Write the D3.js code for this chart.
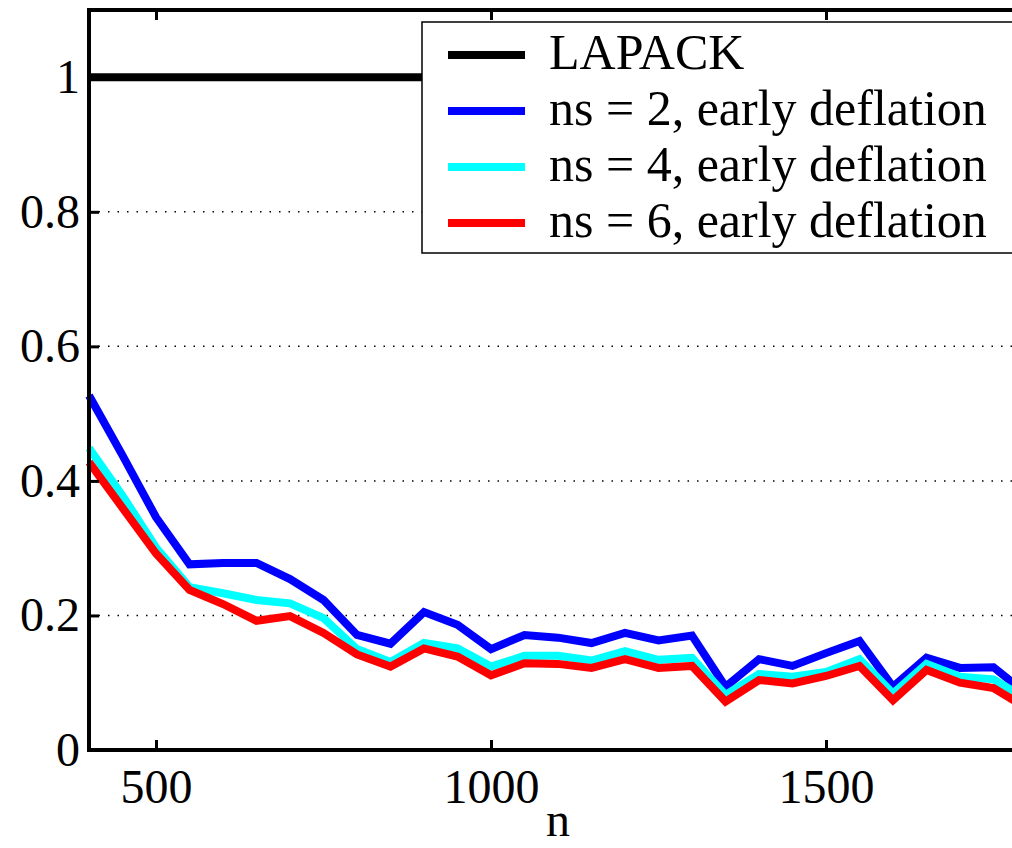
<!DOCTYPE html>
<html>
<head>
<meta charset="utf-8">
<script src="https://cdn.jsdelivr.net/npm/d3@7"></script>
<style>
  body { margin: 0; background: #fff; }
  svg { display: block; }
  text { font-family: "Liberation Serif", "Times New Roman", serif; fill: #000; }
</style>
</head>
<body>
<div id="chart"></div>
<script>
  // ---- data ----
  const nValues = [400, 450, 500, 550, 600, 650, 700, 750, 800, 850, 900, 950, 1000, 1050, 1100,
    1150, 1200, 1250, 1300, 1350, 1400, 1450, 1500, 1550, 1600, 1650, 1700, 1750, 1800];
  const lapack = nValues.map(() => 1);
  const ns2 = [0.527, 0.438, 0.346, 0.276, 0.278, 0.278, 0.254, 0.223, 0.171, 0.158, 0.205, 0.186, 0.150, 0.171, 0.167,
    0.159, 0.174, 0.163, 0.170, 0.094, 0.135, 0.125, 0.144, 0.162, 0.094, 0.137, 0.122, 0.123, 0.083];
  const ns4 = [0.449, 0.378, 0.301, 0.242, 0.233, 0.223, 0.218, 0.196, 0.150, 0.131, 0.159, 0.151, 0.124, 0.140, 0.140,
    0.133, 0.147, 0.134, 0.137, 0.082, 0.113, 0.109, 0.116, 0.135, 0.084, 0.128, 0.109, 0.105, 0.075];
  const ns6 = [0.428, 0.360, 0.292, 0.238, 0.217, 0.192, 0.199, 0.174, 0.142, 0.124, 0.151, 0.139, 0.111, 0.129, 0.128,
    0.122, 0.135, 0.122, 0.125, 0.072, 0.104, 0.099, 0.110, 0.125, 0.074, 0.119, 0.100, 0.092, 0.062];
  const seriesNames = ["LAPACK", "ns = 2, early deflation", "ns = 4, early deflation", "ns = 6, early deflation"];
  const seriesColors = ["#000000", "#0000ff", "#00ffff", "#ff0000"];
  const xTicks = [500, 1000, 1500];
  const yTicks = [0, 0.2, 0.4, 0.6, 0.8, 1];
  const gridTicks = [0.2, 0.4, 0.6, 0.8];

  const W = 1012, H = 848;
  const plot = { left: 89, top: 10, right: 1027, bottom: 750 };

  const svg = d3.select("#chart").append("svg")
    .attr("width", W)
    .attr("height", H);

  const x = d3.scaleLinear().domain([400, 1800]).range([plot.left, plot.right]);
  const y = d3.scaleLinear().domain([0, 1.1]).range([plot.bottom, plot.top]);

  // dotted grid lines
  svg.append("g")
    .selectAll("line")
    .data(gridTicks)
    .join("line")
    .attr("x1", plot.left)
    .attr("x2", plot.right)
    .attr("y1", d => y(d))
    .attr("y2", d => y(d))
    .attr("stroke", "#000")
    .attr("stroke-width", 1.5)
    .attr("stroke-dasharray", "1.5,8");

  // lines
  const line = d3.line()
    .x((d, i) => x(nValues[i]))
    .y(d => y(d));

  const allSeries = [lapack, ns2, ns4, ns6];
  svg.append("g")
    .selectAll("path")
    .data(allSeries)
    .join("path")
    .attr("d", line)
    .attr("fill", "none")
    .attr("stroke", (d, i) => seriesColors[i])
    .attr("stroke-width", 8)
    .attr("stroke-linejoin", "miter")
    .attr("stroke-miterlimit", 4);

  // axes (inward ticks, box)
  const axisStyle = g => {
    g.select(".domain").remove();
    g.selectAll(".tick line").attr("stroke", "#000").attr("stroke-width", 3);
    g.selectAll(".tick text").style("font-size", "48px").style("font-family", "Liberation Serif, serif");
  };

  svg.append("g")
    .attr("transform", `translate(0,${plot.bottom})`)
    .call(d3.axisBottom(x).tickValues(xTicks).tickSize(-10).tickPadding(19).tickFormat(d3.format("d")))
    .call(axisStyle);

  svg.append("g")
    .attr("transform", `translate(0,${plot.top})`)
    .call(d3.axisTop(x).tickValues(xTicks).tickSize(-10).tickFormat(""))
    .call(axisStyle);

  svg.append("g")
    .attr("transform", `translate(${plot.left},0)`)
    .call(d3.axisLeft(y).tickValues(yTicks).tickSize(-10).tickPadding(9).tickFormat(d => d === 0 || d === 1 ? d3.format("d")(d) : d3.format(".1f")(d)))
    .call(axisStyle);

  svg.append("rect")
    .attr("x", plot.left)
    .attr("y", plot.top)
    .attr("width", plot.right - plot.left)
    .attr("height", plot.bottom - plot.top)
    .attr("fill", "none")
    .attr("stroke", "#000")
    .attr("stroke-width", 4);

  // x label
  svg.append("text")
    .attr("x", (plot.left + plot.right) / 2)
    .attr("y", 836)
    .attr("text-anchor", "middle")
    .style("font-size", "48px")
    .text("n");

  // legend
  const legend = svg.append("g").attr("transform", "translate(422,22)");
  legend.append("rect")
    .attr("width", 620)
    .attr("height", 231)
    .attr("fill", "#fff")
    .attr("stroke", "#000")
    .attr("stroke-width", 1.5);

  const items = legend.selectAll("g.item")
    .data(seriesNames)
    .join("g")
    .attr("class", "item")
    .attr("transform", (d, i) => `translate(0,${33 + i * 56})`);

  items.append("line")
    .attr("x1", 26)
    .attr("x2", 103)
    .attr("stroke", (d, i) => seriesColors[i])
    .attr("stroke-width", 8);

  items.append("text")
    .attr("x", 127)
    .attr("y", 14)
    .style("font-size", "50px")
    .text(d => d);
</script>
</body>
</html>
